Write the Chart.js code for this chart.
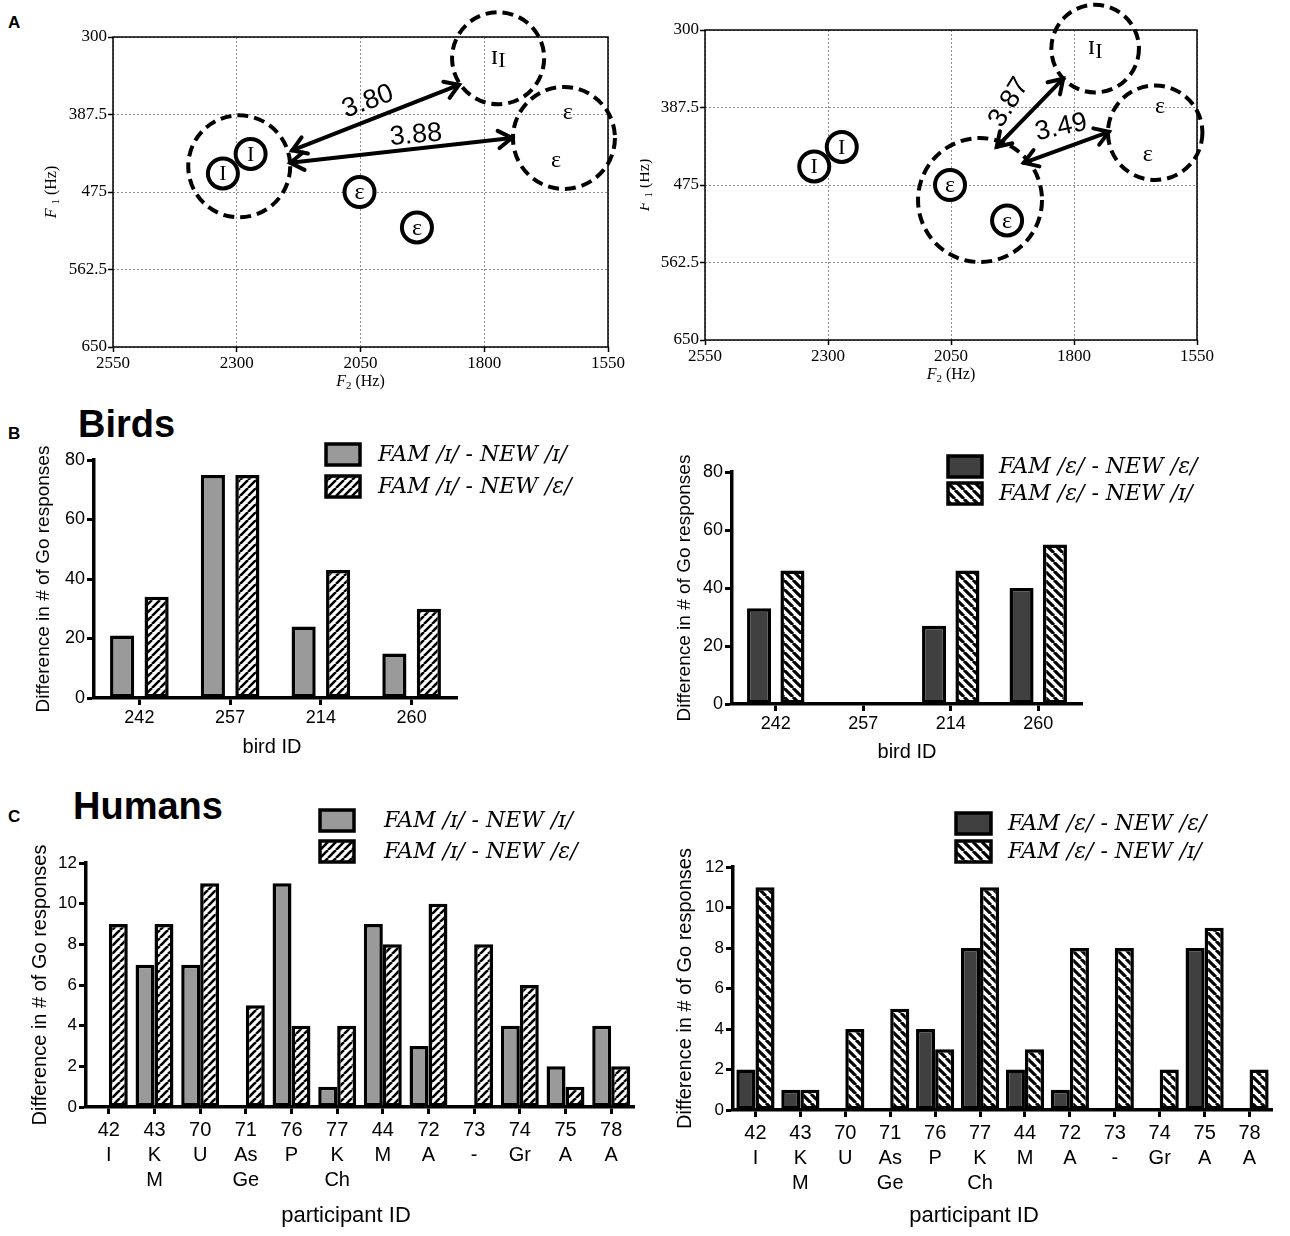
<!DOCTYPE html>
<html>
<head>
<meta charset="utf-8">
<script src="https://cdn.jsdelivr.net/npm/chart.js@4.4.1/dist/chart.umd.min.js"></script>
<style>
html,body{margin:0;padding:0;background:#fff;}
body{position:relative;width:1290px;height:1236px;overflow:hidden;font-family:"Liberation Sans",Arial,sans-serif;}
canvas{position:absolute;}
.t{position:absolute;color:#000;font-weight:bold;line-height:1;transform:translateY(-50%);white-space:nowrap;}
</style>
</head>
<body>
<div class="t" style="left:8px;top:22px;font-size:17px">A</div>
<div class="t" style="left:8px;top:433px;font-size:17px">B</div>
<div class="t" style="left:8px;top:816px;font-size:17px">C</div>
<div class="t" style="left:78px;top:424px;font-size:38px">Birds</div>
<div class="t" style="left:73px;top:806px;font-size:38px">Humans</div>
<canvas id="formantLeft" width="640" height="400" style="left:0;top:0"></canvas>
<canvas id="formantRight" width="650" height="400" style="left:640px;top:0"></canvas>
<canvas id="birdsIh" width="640" height="370" style="left:0;top:400px"></canvas>
<canvas id="birdsEh" width="650" height="370" style="left:640px;top:400px"></canvas>
<canvas id="humansIh" width="640" height="466" style="left:0;top:770px"></canvas>
<canvas id="humansEh" width="650" height="466" style="left:640px;top:770px"></canvas>
<script>
// ---------------- data ----------------
const f2TickLabels = [2550, 2300, 2050, 1800, 1550];
const f1TickLabels = [300, 387.5, 475, 562.5, 650];
const ihTokenF2 = [2328, 2272];
const ihTokenF1 = [454, 432];
const ehTokenF2 = [2052, 1936];
const ehTokenF1 = [475, 515];
const distancesLeft = ['3.80', '3.88'];
const distancesRight = ['3.87', '3.49'];

const birdIds = ['242', '257', '214', '260'];
const birdIhSame = [21, 75, 24, 15];
const birdIhCross = [34, 75, 43, 30];
const birdEhSame = [33, 0, 27, 40];
const birdEhCross = [46, 0, 46, 55];

const participantIds = [['42','I'],['43','K','M'],['70','U'],['71','As','Ge'],['76','P'],['77','K','Ch'],['44','M'],['72','A'],['73','-'],['74','Gr'],['75','A'],['78','A']];
const humanIhSame = [0, 7, 7, 0, 11, 1, 9, 3, 0, 4, 2, 4];
const humanIhCross = [9, 9, 11, 5, 4, 4, 8, 10, 8, 6, 1, 2];
const humanEhSame = [2, 1, 0, 0, 4, 8, 2, 1, 0, 0, 8, 0];
const humanEhCross = [11, 1, 4, 5, 3, 11, 3, 8, 8, 2, 9, 2];

const legendIh = ['FAM /ɪ/ - NEW /ɪ/', 'FAM /ɪ/ - NEW /ɛ/'];
const legendEh = ['FAM /ɛ/ - NEW /ɛ/', 'FAM /ɛ/ - NEW /ɪ/'];

// ---------------- annotation placement (data units) ----------------
const annLeft = {
  clusters: [{x:2295,y:446,r:103},{x:1772,y:324,r:93},{x:1639,y:414,r:103}],
  arrows: [{from:[2188,428],to:[1851,354]},{from:[2192,442],to:[1744,414]}],
  distPos: [{x:2035,y:373,rot:-20},{x:1938,y:411,rot:-5}],
  subPos: {x:1772,y:322},
  ehPos: [{x:1631,y:386},{x:1655,y:440}]
};
const annRight = {
  clusters: [{x:1991,y:492,r:126},{x:1757,y:321,r:89},{x:1635,y:416,r:96}],
  arrows: [{from:[1957,432],to:[1822,355]},{from:[1902,450],to:[1729,415]}],
  distPos: [{x:1932,y:382,rot:-58},{x:1826,y:410,rot:-12}],
  subPos: {x:1757,y:319},
  ehPos: [{x:1625,y:387},{x:1650,y:441}]
};

Chart.defaults.font.family = '"Liberation Sans", Arial, sans-serif';
Chart.defaults.color = '#000';
const SERIF = '"Liberation Serif", "DejaVu Serif", serif';
const LEGEND_FONT = '"DejaVu Serif", "Liberation Serif", serif';

function drawRuns(ctx, runs, cx, cy, rot){
  ctx.save();
  ctx.translate(cx, cy); ctx.rotate(rot);
  ctx.textBaseline = 'middle'; ctx.textAlign = 'left'; ctx.fillStyle = '#000';
  let w = 0;
  const ws = runs.map(r => { ctx.font = (r.i ? 'italic ' : '') + r.s + 'px ' + SERIF; const m = ctx.measureText(r.t).width; w += m; return m; });
  let x = -w/2;
  runs.forEach((r, k) => { ctx.font = (r.i ? 'italic ' : '') + r.s + 'px ' + SERIF; ctx.fillText(r.t, x, r.dy || 0); x += ws[k]; });
  ctx.restore();
}

function arrowHead(ctx, x, y, ang){
  const L = 16, a = Math.PI/5.5;
  ctx.beginPath();
  ctx.moveTo(x - L*Math.cos(ang-a), y - L*Math.sin(ang-a));
  ctx.lineTo(x, y);
  ctx.lineTo(x - L*Math.cos(ang+a), y - L*Math.sin(ang+a));
  ctx.stroke();
}

function formantDecor(ann, dists, geom){
  return {
    id: 'formantDecor',
    beforeDatasetsDraw(chart){
      const {ctx, scales:{x, y}} = chart;
      ctx.save();
      ctx.lineWidth = 4; ctx.strokeStyle = '#000'; ctx.setLineDash([11, 6]);
      ann.clusters.forEach(c => {
        const px = x.getPixelForValue(c.x), py = y.getPixelForValue(c.y);
        const r = Math.abs(x.getPixelForValue(c.x + c.r) - px);
        ctx.beginPath(); ctx.arc(px, py, r, 0, Math.PI*2); ctx.stroke();
      });
      ctx.restore();
    },
    afterDatasetsDraw(chart){
      const {ctx, chartArea:ca, scales:{x, y}} = chart;
      ctx.save();
      ctx.lineWidth = 1.5; ctx.strokeStyle = '#000';
      ctx.strokeRect(ca.left, ca.top, ca.right - ca.left, ca.bottom - ca.top);
      ctx.fillStyle = '#000'; ctx.textAlign = 'center'; ctx.textBaseline = 'middle';
      ctx.font = '22px ' + SERIF;
      ihTokenF2.forEach((v, i) => ctx.fillText('I', x.getPixelForValue(v), y.getPixelForValue(ihTokenF1[i]) + 1));
      ctx.font = '24px ' + SERIF;
      ehTokenF2.forEach((v, i) => ctx.fillText('ε', x.getPixelForValue(v), y.getPixelForValue(ehTokenF1[i]) + 1));
      ann.ehPos.forEach(p => ctx.fillText('ε', x.getPixelForValue(p.x), y.getPixelForValue(p.y)));
      drawRuns(ctx, [{t:'ɪ', s:27}, {t:'I', s:22, dy:5}], x.getPixelForValue(ann.subPos.x), y.getPixelForValue(ann.subPos.y), 0);
      ctx.lineWidth = 4; ctx.lineCap = 'round'; ctx.lineJoin = 'miter';
      ann.arrows.forEach(a => {
        const x1 = x.getPixelForValue(a.from[0]), y1 = y.getPixelForValue(a.from[1]);
        const x2 = x.getPixelForValue(a.to[0]), y2 = y.getPixelForValue(a.to[1]);
        ctx.beginPath(); ctx.moveTo(x1, y1); ctx.lineTo(x2, y2); ctx.stroke();
        const ang = Math.atan2(y2 - y1, x2 - x1);
        arrowHead(ctx, x2, y2, ang);
        arrowHead(ctx, x1, y1, ang + Math.PI);
      });
      ctx.font = '27px "Liberation Sans", Arial, sans-serif';
      ctx.textAlign = 'center'; ctx.textBaseline = 'middle';
      ann.distPos.forEach((p, i) => {
        ctx.save();
        ctx.translate(x.getPixelForValue(p.x), y.getPixelForValue(p.y));
        ctx.rotate(p.rot * Math.PI / 180);
        ctx.fillText(dists[i], 0, 0);
        ctx.restore();
      });
      ctx.restore();
      const cy = (ca.top + ca.bottom) / 2, cx = (ca.left + ca.right) / 2;
      drawRuns(ctx, [{t:'F', s:16, i:true}, {t:' ', s:16}, {t:'1', s:11, dy:4}, {t:' (Hz)', s:16}], ca.left + geom.yTitleDx, cy, -Math.PI/2);
      drawRuns(ctx, [{t:'F', s:16, i:true}, {t:'2', s:11, dy:4}, {t:' (Hz)', s:16}], cx, ca.bottom + geom.xTitleDy, 0);
    }
  };
}

function formantChart(id, ann, dists, geom){
  const tickFont = {family: SERIF, size: 17};
  return new Chart(document.getElementById(id), {
    type: 'scatter',
    data: {datasets: [
      {label: 'ɪ tokens', data: ihTokenF2.map((v, i) => ({x: v, y: ihTokenF1[i]})),
       pointRadius: 15, pointHoverRadius: 15, pointBorderWidth: 4, pointBackgroundColor: '#fff', pointBorderColor: '#000'},
      {label: 'ɛ tokens', data: ehTokenF2.map((v, i) => ({x: v, y: ehTokenF1[i]})),
       pointRadius: 15, pointHoverRadius: 15, pointBorderWidth: 4, pointBackgroundColor: '#fff', pointBorderColor: '#000'}
    ]},
    options: {
      responsive: false, animation: false, events: [],
      layout: {padding: {left: 0, top: geom.top, right: geom.right, bottom: 0}},
      plugins: {legend: {display: false}, tooltip: {enabled: false}},
      scales: {
        x: {type: 'linear', min: 1550, max: 2550, reverse: true,
            afterFit: s => { s.height = geom.xh; },
            afterBuildTicks: s => { s.ticks = f2TickLabels.map(v => ({value: v})); },
            ticks: {callback: v => String(v), font: tickFont, color: '#000', padding: 1, maxRotation: 0, autoSkip: false},
            grid: {color: '#8c8c8c', lineWidth: 1, tickLength: 5, tickColor: '#000', tickWidth: 1.5},
            border: {display: false, dash: [2, 2]}},
        y: {type: 'linear', min: 300, max: 650, reverse: true,
            afterFit: s => { s.width = geom.yw; },
            afterBuildTicks: s => { s.ticks = f1TickLabels.map(v => ({value: v})); },
            ticks: {callback: v => String(v), font: tickFont, color: '#000', padding: 1, autoSkip: false},
            grid: {color: '#8c8c8c', lineWidth: 1, tickLength: 5, tickColor: '#000', tickWidth: 1.5},
            border: {display: false, dash: [2, 2]}}
      }
    },
    plugins: [formantDecor(ann, dists, geom)]
  });
}

function hatch(dir){
  const s = dir === '/' ? 8 : 9;
  const c = document.createElement('canvas'); c.width = s; c.height = s;
  const g = c.getContext('2d');
  g.fillStyle = '#fff'; g.fillRect(0, 0, s, s);
  g.strokeStyle = '#000'; g.lineWidth = dir === '/' ? 2.6 : 3.1;
  g.beginPath();
  for (let k = -1; k <= 1; k++) {
    if (dir === '/') { g.moveTo(k*s, s); g.lineTo(k*s + s, 0); }
    else { g.moveTo(k*s, 0); g.lineTo(k*s + s, s); }
  }
  g.stroke();
  return g.createPattern(c, 'repeat');
}

const barDecor = {
  id: 'barDecor',
  afterDraw(chart, args, o){
    const ctx = chart.ctx;
    ctx.save();
    chart.data.datasets.forEach((ds, i) => {
      const it = o.items[i];
      ctx.fillStyle = ds.backgroundColor;
      ctx.fillRect(it.x, it.y, o.w, o.h);
      ctx.lineWidth = 3.5; ctx.strokeStyle = '#000';
      ctx.strokeRect(it.x, it.y, o.w, o.h);
      ctx.fillStyle = '#000'; ctx.textBaseline = 'middle'; ctx.textAlign = 'left';
      ctx.font = 'italic ' + o.fs + 'px ' + LEGEND_FONT;
      ctx.fillText(ds.label, o.tx, it.y + o.h/2 + 1);
    });
    ctx.font = o.xtFs + 'px "Liberation Sans", Arial, sans-serif';
    ctx.textAlign = 'center'; ctx.textBaseline = 'middle';
    ctx.fillText(o.xTitle, o.xtX, o.xtY);
    ctx.restore();
  }
};

function barChart(id, g){
  return new Chart(document.getElementById(id), {
    type: 'bar',
    data: {labels: g.labels, datasets: [
      {label: g.names[0], data: g.a, backgroundColor: g.fill, borderColor: '#000', borderWidth: 3.5, borderSkipped: false,
       categoryPercentage: g.cat, barPercentage: g.bar},
      {label: g.names[1], data: g.b, backgroundColor: hatch(g.dir), borderColor: '#000', borderWidth: 3.5, borderSkipped: false,
       categoryPercentage: g.cat, barPercentage: g.bar}
    ]},
    options: {
      responsive: false, animation: false, events: [],
      layout: {padding: {left: 0, top: g.top, right: g.right, bottom: 0}},
      plugins: {legend: {display: false}, tooltip: {enabled: false}, barDecor: g.decor},
      scales: {
        x: {afterFit: s => { s.height = g.xh; },
            grid: {display: true, offset: false, drawOnChartArea: false, drawTicks: true, tickLength: 7, tickWidth: 3, tickColor: '#000'},
            border: {display: true, width: 3.5, color: '#000'},
            ticks: {color: '#000', font: {size: g.xfs, lineHeight: g.xlh}, padding: g.xpad, maxRotation: 0, autoSkip: false}},
        y: {min: 0, max: g.max, afterFit: s => { s.width = g.yw; },
            ticks: {stepSize: g.step, color: '#000', font: {size: g.yfs}, padding: 2},
            grid: {display: true, drawOnChartArea: false, drawTicks: true, tickLength: 7, tickWidth: 3, tickColor: '#000'},
            border: {display: true, width: 3.5, color: '#000'},
            title: {display: true, text: 'Difference in # of Go responses', color: '#000', font: {size: g.ytFs}, padding: {top: g.ytPad, bottom: 0}}}
      }
    },
    plugins: [barDecor]
  });
}

formantChart('formantLeft', annLeft, distancesLeft, {top: 37, right: 32, yw: 113, xh: 53, yTitleDx: -61, xTitleDy: 35});
formantChart('formantRight', annRight, distancesRight, {top: 30, right: 93, yw: 65, xh: 60, yTitleDx: -60, xTitleDy: 35});

barChart('birdsIh', {labels: birdIds, names: legendIh, a: birdIhSame, b: birdIhCross, fill: '#9a9a9a', dir: '/',
  cat: 0.76, bar: 0.7, top: 60, right: 183, yw: 94, xh: 72, max: 80, step: 20,
  xfs: 18, xlh: 1.2, xpad: 2, yfs: 18, ytFs: 19, ytPad: 32,
  decor: {items: [{x: 326, y: 44}, {x: 326, y: 76}], w: 34, h: 21, tx: 378, fs: 22, xTitle: 'bird ID', xtFs: 20, xtX: 272, xtY: 347}});

barChart('birdsEh', {labels: birdIds, names: legendEh, a: birdEhSame, b: birdEhCross, fill: '#404040', dir: '\\',
  cat: 0.763, bar: 0.72, top: 72, right: 208, yw: 92, xh: 66, max: 80, step: 20,
  xfs: 18, xlh: 1.2, xpad: 2, yfs: 18, ytFs: 19, ytPad: 33,
  decor: {items: [{x: 308, y: 56}, {x: 308, y: 83}], w: 34, h: 21, tx: 359, fs: 22, xTitle: 'bird ID', xtFs: 20, xtX: 267, xtY: 352}});

barChart('humansIh', {labels: participantIds, names: legendIh, a: humanIhSame, b: humanIhCross, fill: '#9a9a9a', dir: '/',
  cat: 0.83, bar: 1.0, top: 93, right: 6, yw: 86, xh: 129, max: 12, step: 2,
  xfs: 20, xlh: 1.25, xpad: 4, yfs: 17, ytFs: 20, ytPad: 28,
  decor: {items: [{x: 320, y: 40}, {x: 320, y: 71}], w: 34, h: 21, tx: 384, fs: 22, xTitle: 'participant ID', xtFs: 22, xtX: 346, xtY: 446}});

barChart('humansEh', {labels: participantIds, names: legendEh, a: humanEhSame, b: humanEhCross, fill: '#404040', dir: '\\',
  cat: 0.85, bar: 1.0, top: 97, right: 18, yw: 93, xh: 126, max: 12, step: 2,
  xfs: 20, xlh: 1.25, xpad: 4, yfs: 17, ytFs: 20, ytPad: 33,
  decor: {items: [{x: 316, y: 43}, {x: 316, y: 71}], w: 35, h: 21, tx: 368, fs: 22, xTitle: 'participant ID', xtFs: 22, xtX: 334, xtY: 446}});
</script>
</body>
</html>
